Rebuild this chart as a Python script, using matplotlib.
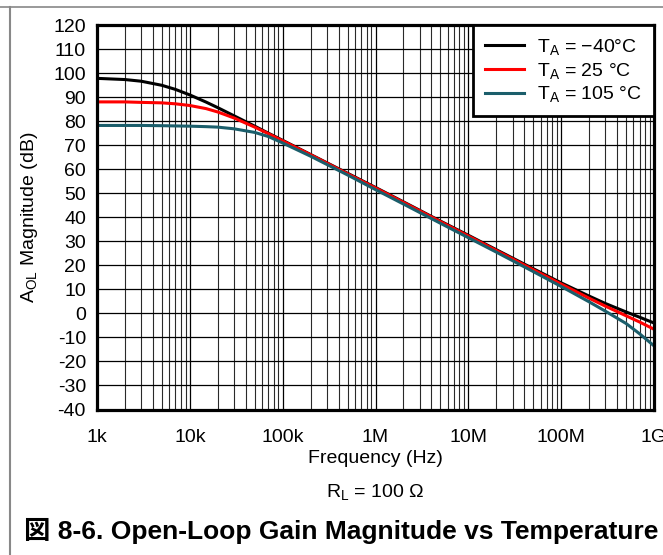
import matplotlib
matplotlib.use("Agg")
import matplotlib.pyplot as plt
from matplotlib.ticker import FixedLocator, NullFormatter
from matplotlib.lines import Line2D

plt.rcParams['font.family'] = ['Liberation Sans', 'Noto Sans CJK JP', 'DejaVu Sans']
plt.rcParams['mathtext.default'] = 'regular'
plt.rcParams['axes.unicode_minus'] = False

# values (Hz, dB)
freq = [1e3, 2e3, 3e3, 5e3, 7e3, 1e4, 1.5e4, 2e4, 3e4, 5e4, 7e4, 1e5, 2e5, 5e5,
        1e6, 2e6, 5e6, 1e7, 2e7, 5e7, 1e8, 2e8, 3e8, 5e8, 7e8, 1e9]
gain_m40 = [97.8, 97.3, 96.6, 94.9, 93.2, 90.9, 87.9, 85.6, 82.2, 77.9, 75.0, 72.0, 66.1, 58.3,
            52.4, 46.4, 38.4, 32.5, 26.5, 18.6, 12.7, 7.2, 4.1, 0.6, -1.6, -4.0]
gain_25 = [88.0, 88.0, 87.8, 87.6, 87.2, 86.5, 85.2, 83.8, 81.3, 77.5, 74.8, 71.8, 66.0, 58.1,
           52.2, 46.2, 38.2, 32.2, 26.2, 18.2, 12.2, 6.3, 3.0, -1.0, -3.6, -6.6]
gain_105 = [78.2, 78.2, 78.2, 78.1, 78.0, 77.9, 77.7, 77.5, 76.8, 75.3, 73.6, 70.9, 65.4, 57.6,
            51.5, 45.5, 37.5, 31.5, 25.5, 17.4, 11.2, 4.8, 0.9, -4.2, -8.5, -13.5]

y_ticks = list(range(-40, 121, 10))
x_ticks = [1e3, 1e4, 1e5, 1e6, 1e7, 1e8, 1e9]
x_labels = ['1k', '10k', '100k', '1M', '10M', '100M', '1G']
labels = ['T$_A$ = \u221240\u00b0C', 'T$_A$ = 25 \u00b0C', 'T$_A$ = 105 \u00b0C']
colors = ['#000000', '#ff0000', '#1b5e6b']

fs = 14

fig = plt.figure(figsize=(6.63, 5.55), dpi=100)
ax = fig.add_axes([97 / 663, 1 - 409.5 / 555, 557 / 663, 384.5 / 555])

minor = [m * d for d in x_ticks[:-1] for m in range(2, 10)]
for x in minor:
    ax.axvline(x, color='#2a2a2a', lw=0.8, zorder=1)
for x in x_ticks:
    ax.axvline(x, color='black', lw=0.9, zorder=1)
for y in y_ticks:
    ax.axhline(y, color='black', lw=0.9, zorder=1)

for g, c in zip([gain_m40, gain_25, gain_105], colors):
    ax.plot(freq, g, color=c, lw=2.2, zorder=3, solid_capstyle='butt')

ax.set_xscale('log')
ax.set_xlim(1e3, 1e9)
ax.set_ylim(-40, 120)
ax.xaxis.set_major_locator(FixedLocator(x_ticks))
ax.xaxis.set_minor_locator(FixedLocator(minor))
ax.xaxis.set_minor_formatter(NullFormatter())
ax.set_xticklabels(x_labels)
ax.set_yticks(y_ticks)
ax.tick_params(axis='both', which='both', length=0, labelsize=fs)
ax.tick_params(axis='x', pad=14)
ax.tick_params(axis='y', pad=8)
for s in ax.spines.values():
    s.set_linewidth(2.3)
    s.set_zorder(5)

ax.set_ylabel('A$_{OL}$ Magnitude (dB)', fontsize=fs)
ax.yaxis.set_label_coords(-0.102, 0.5)
ax.set_xlabel('Frequency (Hz)', fontsize=fs, labelpad=3)

handles = [Line2D([0], [0], color=c, lw=2.2) for c in colors]
leg = ax.legend(handles, labels, loc='upper right', fontsize=14, frameon=True, fancybox=False,
                borderaxespad=0, handlelength=2.0, handletextpad=0.7, labelspacing=0.2,
                borderpad=0.6)
leg.get_frame().set_edgecolor('black')
leg.get_frame().set_linewidth(2.0)
leg.get_frame().set_alpha(1)
leg.set_zorder(6)

fig.text(375 / 663, 1 - 492 / 555, 'R$_L$ = 100 \u03a9', fontsize=fs, ha='center', va='center')
fig.text(24 / 663, 1 - 531 / 555, '\u56f3 8-6. Open-Loop Gain Magnitude vs Temperature',
         fontsize=19, fontweight='bold', ha='left', va='center')

# page frame lines
fig.add_artist(Line2D([9.5 / 663, 9.5 / 663], [0, 1 - 6.5 / 555], color='#888888', lw=1.5))
fig.add_artist(Line2D([0, 1], [1 - 6.5 / 555, 1 - 6.5 / 555], color='#888888', lw=1.2))

fig.savefig('out.png', dpi=100)
